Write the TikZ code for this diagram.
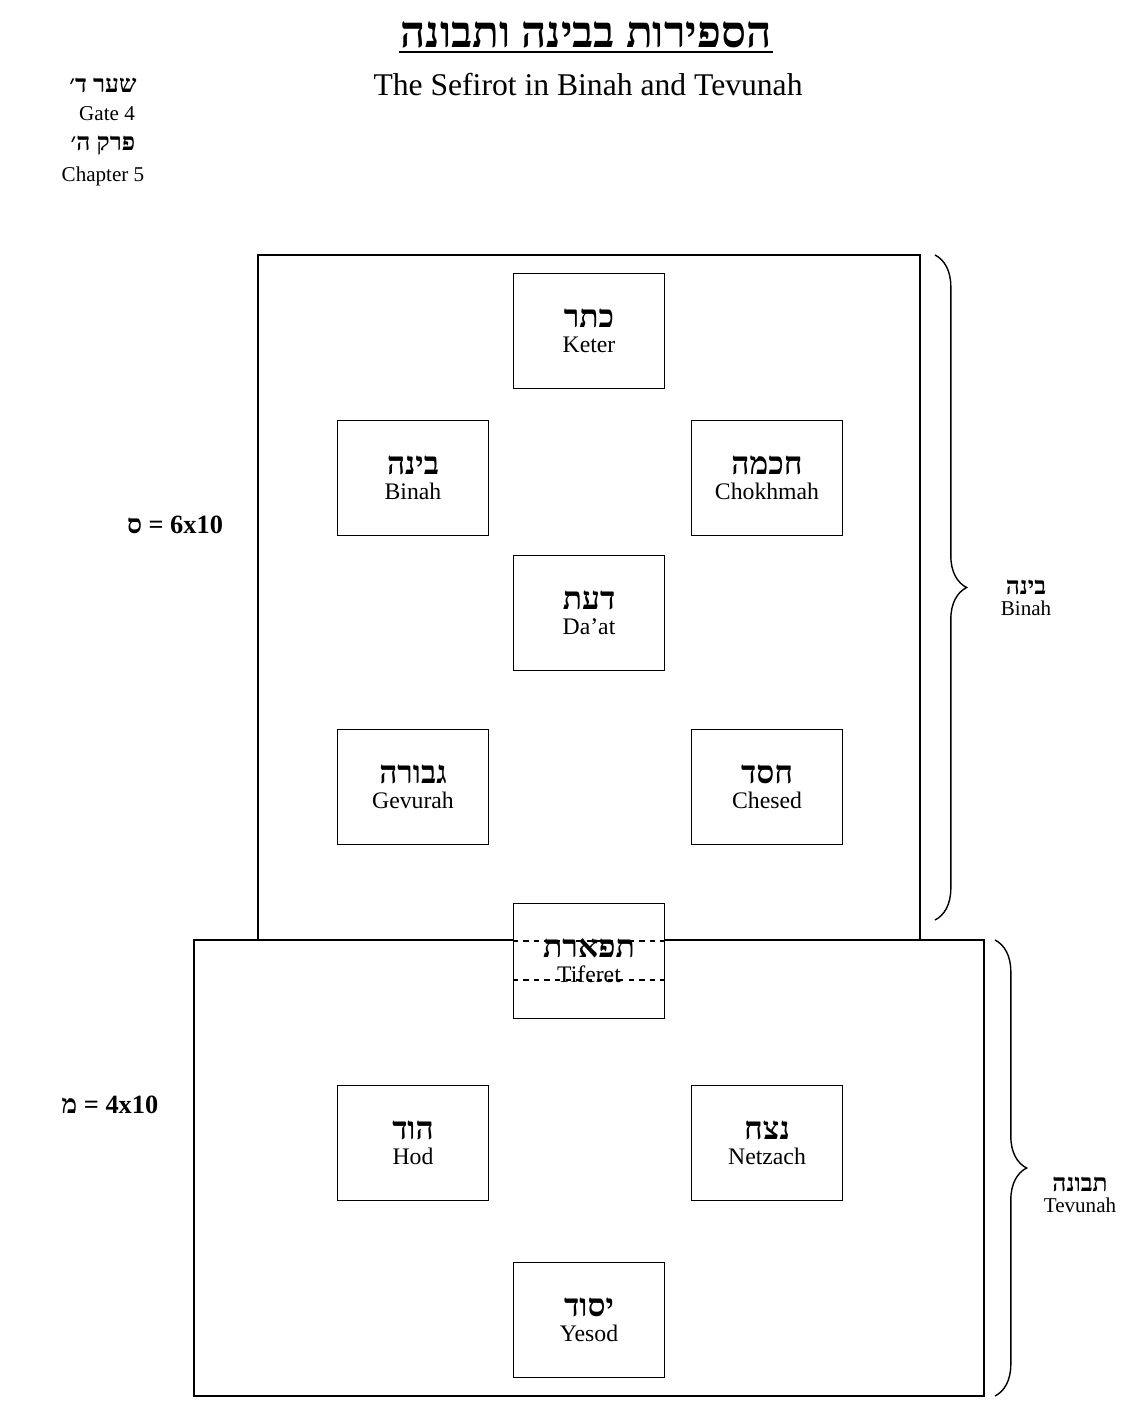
\documentclass[tikz,border=0pt]{standalone}
\usepackage{fontspec}
\setmainfont{Liberation Serif}
\usetikzlibrary{decorations.pathreplacing}
\TeXXeTstate=1
\newcommand{\heb}[1]{\beginR #1\endR}
\tikzset{
  sefira/.style={draw, thick, minimum width=151*0.02cm, minimum height=115*0.02cm, align=center, inner sep=0pt},
  hebname/.style={font=\bfseries\fontsize{18}{20}\selectfont},
  bracefig/.style={decorate, decoration={brace, amplitude=18pt}, thick},
}
\newcommand{\sefira}[4]{\node[sefira, fill=white] (#1) at (#2) {{\bfseries\fontsize{18}{20}\selectfont\heb{#3}}\\[2pt]{\fontsize{13.5}{15}\selectfont #4}};}
\begin{document}
\begin{tikzpicture}[x=0.02cm, y=-0.02cm]
    \useasboundingbox (0,0) rectangle (1122,1402);

    % Title
    \node[font=\bfseries\fontsize{25}{28}\selectfont, inner sep=1pt] (title) at (586,35) {\heb{הספירות בבינה ותבונה}};
    \draw[thick] ([yshift=-1pt]title.south west) -- ([yshift=-1pt]title.south east);
    \node[font=\fontsize{18}{20}\selectfont] (subtitle) at (588,85) {The Sefirot in Binah and Tevunah};

    % Gate and chapter
    \node[font=\bfseries\fontsize{14}{16}\selectfont] (gateheb) at (103,85) {\heb{שער ד׳}};
    \node[font=\fontsize{12}{14}\selectfont] (gate) at (107,114) {Gate 4};
    \node[font=\bfseries\fontsize{14}{16}\selectfont] (chapheb) at (103,146) {\heb{פרק ה׳}};
    \node[font=\fontsize{12}{14}\selectfont] (chap) at (103,176) {Chapter 5};

    % Binah and Tevunah frames
    \draw[thick] (258,940) rectangle (920,255);
    \draw[thick] (194,940) rectangle (984,1396);

    % Sefirot
    \sefira{keter}{589,331}{כתר}{Keter}
    \sefira{binah}{413,478}{בינה}{Binah}
    \sefira{chokhmah}{767,478}{חכמה}{Chokhmah}
    \sefira{daat}{589,613}{דעת}{Da'at}
    \sefira{gevurah}{413,787}{גבורה}{Gevurah}
    \sefira{chesed}{767,787}{חסד}{Chesed}
    \sefira{tiferet}{589,961}{תפארת}{Tiferet}
    \sefira{hod}{413,1143}{הוד}{Hod}
    \sefira{netzach}{767,1143}{נצח}{Netzach}
    \sefira{yesod}{589,1320}{יסוד}{Yesod}

    % Dashed lines through Tiferet
    \draw[thick, dashed] (tiferet.west |- 0,941) -- (tiferet.east |- 0,941);
    \draw[thick, dashed] (tiferet.west |- 0,980) -- (tiferet.east |- 0,980);

    % Numbers
    \node[font=\bfseries\fontsize{15}{17}\selectfont] (samekh) at (175,525) {ס = 6x10};
    \node[font=\bfseries\fontsize{15}{17}\selectfont] (mem) at (110,1105) {מ = 4x10};

    % Braces
    \draw[bracefig] (935,255) -- (935,920);
    \node[align=center] (binahlbl) at (1026,598) {{\bfseries\fontsize{14}{16}\selectfont\heb{בינה}}\\{\fontsize{12}{14}\selectfont Binah}};
    \draw[bracefig] (995,940) -- (995,1396);
    \node[align=center] (tevunahlbl) at (1080,1195) {{\bfseries\fontsize{14}{16}\selectfont\heb{תבונה}}\\{\fontsize{12}{14}\selectfont Tevunah}};
\end{tikzpicture}
\end{document}
